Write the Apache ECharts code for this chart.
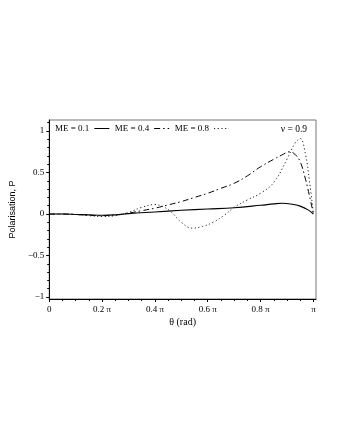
<!DOCTYPE html>
<html>
<head>
<meta charset="utf-8">
<script src="https://cdn.jsdelivr.net/npm/echarts@6/dist/echarts.min.js"></script>
<style>
  html, body { margin: 0; padding: 0; background: #fff; }
  #chart { width: 340px; height: 440px; }
</style>
</head>
<body>
<div id="chart"></div>
<script>
// theta in units of pi
var theta1 = [0, 0.05, 0.1, 0.15, 0.2, 0.25, 0.3, 0.4, 0.5, 0.6, 0.7, 0.8, 0.85, 0.88, 0.92, 0.95, 0.98, 1.0];
var pol1 = [0, 0, -0.005, -0.01, -0.015, -0.01, 0.005, 0.025, 0.045, 0.06, 0.075, 0.105, 0.122, 0.13, 0.118, 0.095, 0.05, 0];

var theta2 = [0, 0.05, 0.1, 0.15, 0.2, 0.25, 0.3, 0.35, 0.4, 0.45, 0.5, 0.55, 0.6, 0.65, 0.7, 0.75, 0.8, 0.85, 0.88, 0.91, 0.93, 0.95, 0.97, 0.985, 1.0];
var pol2 = [0, 0, -0.005, -0.015, -0.02, -0.01, 0.01, 0.04, 0.07, 0.11, 0.15, 0.2, 0.25, 0.31, 0.37, 0.46, 0.57, 0.66, 0.71, 0.75, 0.72, 0.63, 0.42, 0.22, 0];

var theta3 = [0, 0.05, 0.1, 0.15, 0.2, 0.25, 0.3, 0.35, 0.4, 0.43, 0.46, 0.5, 0.54, 0.58, 0.62, 0.66, 0.7, 0.75, 0.8, 0.85, 0.9, 0.93, 0.95, 0.97, 0.985, 1.0];
var pol3 = [0, 0, -0.005, -0.02, -0.03, -0.02, 0.02, 0.08, 0.115, 0.09, 0.03, -0.1, -0.17, -0.15, -0.1, -0.02, 0.08, 0.17, 0.25, 0.38, 0.66, 0.85, 0.91, 0.72, 0.4, 0];

var xTicks = [0, 0.2, 0.4, 0.6, 0.8, 1];
var xMinor = [0.05, 0.1, 0.15, 0.25, 0.3, 0.35, 0.45, 0.5, 0.55, 0.65, 0.7, 0.75, 0.85, 0.9, 0.95];
var yTicks = [-1, -0.5, 0, 0.5, 1];
var yMinor = [-0.9, -0.8, -0.7, -0.6, -0.4, -0.3, -0.2, -0.1, 0.1, 0.2, 0.3, 0.4, 0.6, 0.7, 0.8, 0.9, 1.1];

var serif = 'Liberation Serif';

function pairs(xs, ys) {
    return xs.map(function (x, i) { return [x, ys[i]]; });
}

function xLabel(v) {
    if (v === 0) return '0';
    if (v === 1) return 'π';
    return v + ' π';
}

var chart = echarts.init(document.getElementById('chart'));
chart.setOption({
    animation: false,
    grid: {
        left: 47, right: 24, top: 120, bottom: 141,
        show: true, borderColor: '#777', borderWidth: 1
    },
    title: {
        text: 'ν = 0.9',
        right: 28, top: 119,
        textStyle: { fontFamily: serif, fontSize: 9.5, fontWeight: 'normal', color: '#000' }
    },
    legend: {
        left: 50, top: 119,
        align: 'right',
        itemWidth: 15, itemHeight: 8, itemGap: 5,
        itemStyle: { opacity: 0 },
        lineStyle: { width: 1 },
        textStyle: { fontFamily: serif, fontSize: 9, color: '#000' },
        data: ['ME = 0.1', 'ME = 0.4', 'ME = 0.8']
    },
    xAxis: [{
        type: 'value', min: 0, max: 1.0098,
        name: 'θ (rad)', nameLocation: 'middle', nameGap: 18,
        nameTextStyle: { fontFamily: serif, fontSize: 10, color: '#000' },
        axisLine: { onZero: false, lineStyle: { color: '#000', width: 1 } },
        axisTick: { customValues: xTicks, length: 3, lineStyle: { color: '#000' } },
        axisLabel: { customValues: xTicks, formatter: xLabel, margin: 6, fontFamily: serif, fontSize: 9, color: '#000' },
        splitLine: { show: false }
    }, {
        type: 'value', min: 0, max: 1.0098, position: 'bottom',
        axisLine: { show: false, onZero: false },
        axisTick: { customValues: xMinor, length: 2, lineStyle: { color: '#000' } },
        axisLabel: { show: false },
        splitLine: { show: false }
    }],
    yAxis: [{
        type: 'value', min: -1.024, max: 1.133,
        name: 'Polarisation, P', nameLocation: 'middle', nameGap: 22,
        nameTextStyle: { fontFamily: 'Liberation Sans', fontSize: 9, color: '#000' },
        axisLine: { show: true, onZero: false, lineStyle: { color: '#000', width: 1 } },
        axisTick: { show: true, customValues: yTicks, length: 3, lineStyle: { color: '#000' } },
        axisLabel: { customValues: yTicks, margin: 5, fontFamily: serif, fontSize: 9, color: '#000',
            formatter: function (v) { return v < 0 ? '\u2212' + (-v) : String(v); } },
        splitLine: { show: false }
    }, {
        type: 'value', min: -1.024, max: 1.133, position: 'left',
        axisLine: { show: false, onZero: false },
        axisTick: { show: true, customValues: yMinor, length: 2, lineStyle: { color: '#000' } },
        axisLabel: { show: false },
        splitLine: { show: false }
    }],
    series: [{
        name: 'ME = 0.1', type: 'line', smooth: 0.4, symbol: 'none',
        data: pairs(theta1, pol1),
        lineStyle: { color: '#000', width: 1.1, type: 'solid' },
        itemStyle: { color: '#000' }
    }, {
        name: 'ME = 0.4', type: 'line', smooth: 0.4, symbol: 'none',
        data: pairs(theta2, pol2),
        lineStyle: { color: '#000', width: 1, type: [6, 3, 1.5, 3] },
        itemStyle: { color: '#000' }
    }, {
        name: 'ME = 0.8', type: 'line', smooth: 0.4, symbol: 'none',
        data: pairs(theta3, pol3),
        lineStyle: { color: '#222', width: 1, type: [1.2, 2.5] },
        itemStyle: { color: '#222' }
    }]
});
</script>
</body>
</html>
